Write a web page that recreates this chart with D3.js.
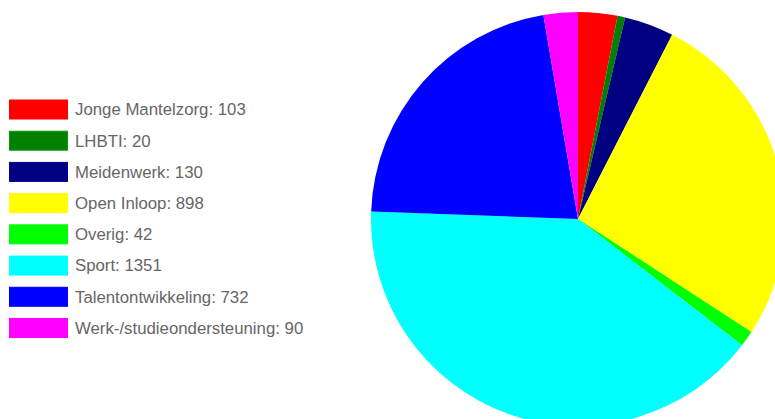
<!DOCTYPE html>
<html><head><meta charset="utf-8">
<script src="https://cdn.jsdelivr.net/npm/d3@7/dist/d3.min.js"></script>
<style>html,body{margin:0;padding:0;background:#fff;}svg{display:block;}</style>
</head><body>
<svg id="chart" width="775" height="419"></svg>
<script>
const categories = ["Jonge Mantelzorg","LHBTI","Meidenwerk","Open Inloop","Overig","Sport","Talentontwikkeling","Werk-/studieondersteuning"];
const values = [103,20,130,898,42,1351,732,90];
const colors = ["#ff0000","#008000","#000080","#ffff00","#00ff00","#00ffff","#0000ff","#ff00ff"];

const svg = d3.select("#chart");
const cx = 578, cy = 219, r = 207;

const pie = d3.pie().sort(null).value(d => d.v);
const arc = d3.arc().innerRadius(0).outerRadius(r);
const data = categories.map((c,i)=>({c, v: values[i], col: colors[i]}));

svg.append("g").attr("transform", `translate(${cx},${cy})`)
  .selectAll("path").data(pie(data)).join("path")
  .attr("d", arc).attr("fill", d => d.data.col);

const legendY = d3.scalePoint().domain(categories).range([99.5, 318]);
const lg = svg.append("g");
const rows = lg.selectAll("g").data(data).join("g")
  .attr("transform", d => `translate(9,${legendY(d.c)})`);
rows.append("rect").attr("x",0.5).attr("y",0.5).attr("width",58).attr("height",19)
  .attr("fill", d => d.col).attr("stroke", d => d3.color(d.col).brighter(0.6)).attr("stroke-width",1);
rows.append("text").attr("x",66).attr("y",10).attr("dy","0.35em")
  .attr("font-family","'Liberation Sans', Arial, sans-serif").attr("font-size",16.8)
  .attr("fill","#666").text(d => `${d.c}: ${d.v}`);
</script>
</body></html>
